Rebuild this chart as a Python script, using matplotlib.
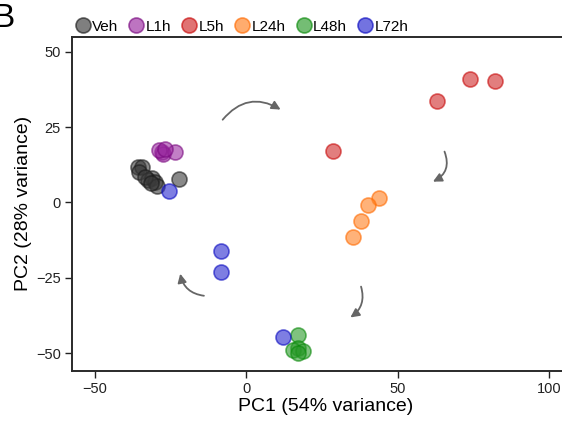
import numpy as np
import matplotlib.pyplot as plt
from matplotlib.patches import FancyArrowPatch
from matplotlib.lines import Line2D

plt.rcParams['font.family'] = ['Liberation Sans', 'DejaVu Sans']

groups = ['Veh', 'L1h', 'L5h', 'L24h', 'L48h', 'L72h']
face_colors = ['#3a3a3a', '#9a2aa0', '#d02828', '#ff8020', '#2a9a2a', '#2828d0']
edge_colors = ['#1a1a1a', '#7a0a80', '#c80a0a', '#ff6a00', '#0a8a0a', '#0a0ac0']

pc1 = {
    'Veh': [-35.9, -34.6, -35.3, -31.3, -32.6, -30.3, -29.6, -22.4, -33.5, -31.5],
    'L1h': [-28.0, -27.5, -23.7, -29.0, -27.0],
    'L5h': [28.6, 63.1, 73.7, 82.0],
    'L24h': [43.9, 40.2, 37.9, 35.3],
    'L48h': [17.0, 17.0, 15.4, 18.7, 17.0],
    'L72h': [-25.7, -8.4, -8.4, 12.1],
}
pc2 = {
    'Veh': [11.8, 11.8, 10.1, 8.1, 7.5, 6.8, 5.5, 7.8, 8.5, 6.5],
    'L1h': [16.7, 16.0, 16.7, 17.5, 17.7],
    'L5h': [17.1, 33.6, 40.9, 40.2],
    'L24h': [1.5, -0.8, -6.1, -11.4],
    'L48h': [-43.9, -48.2, -48.8, -49.2, -49.8],
    'L72h': [3.8, -16.1, -23.0, -44.5],
}

# trajectory arrows: (start, end, curvature)
arrows = [
    ((-8.4, 26.7), (12.1, 30.3), -0.45),
    ((65.1, 17.7), (60.8, 6.5), -0.5),
    ((37.6, -27.0), (33.6, -38.6), -0.4),
    ((-13.1, -31.0), (-22.0, -22.7), -0.4),
]

fig = plt.figure(figsize=(5.62, 4.21), dpi=100)
ax = fig.add_axes([0.128, 0.1197, 0.903, 0.7923])

for g, fc, ec in zip(groups, face_colors, edge_colors):
    ax.scatter(pc1[g], pc2[g], s=117, facecolor=fc, edgecolor=ec,
               alpha=0.6, linewidth=1.2, zorder=3)

for start, end, rad in arrows:
    arr = FancyArrowPatch(start, end, connectionstyle=f'arc3,rad={rad}',
                          arrowstyle='-|>', mutation_scale=13,
                          color='#666666', linewidth=1.3, zorder=2)
    ax.add_patch(arr)

ax.set_xlim(-57.6, 110)
ax.set_ylim(-55.7, 54.8)
ax.set_xticks([-50, 0, 50, 100])
ax.set_yticks([-50, -25, 0, 25, 50])
ax.tick_params(direction='out', length=5, width=1, labelsize=10.5, colors='#222222', pad=3)
for sp in ax.spines.values():
    sp.set_linewidth(1.4)
    sp.set_color('#2a2a2a')
ax.spines['right'].set_visible(False)
ax.set_xlabel('PC1 (54% variance)', fontsize=14, labelpad=2)
ax.set_ylabel('PC2 (28% variance)', fontsize=14, labelpad=3)

handles = [Line2D([], [], marker='o', linestyle='none', markersize=10.8,
                  markerfacecolor=fc, markeredgecolor=ec, alpha=0.65,
                  markeredgewidth=1.2)
           for fc, ec in zip(face_colors, edge_colors)]
fig.legend(handles, groups, ncol=6, loc='center left', bbox_to_anchor=(0.135, 0.937),
           frameon=False, handletextpad=0.15, columnspacing=0.75, fontsize=11,
           borderaxespad=0, borderpad=0, handlelength=0.9)

fig.text(-0.014, 1 - 3 / 421, 'B', fontsize=24, va='top', ha='left')

fig.savefig('out.png', dpi=100)
